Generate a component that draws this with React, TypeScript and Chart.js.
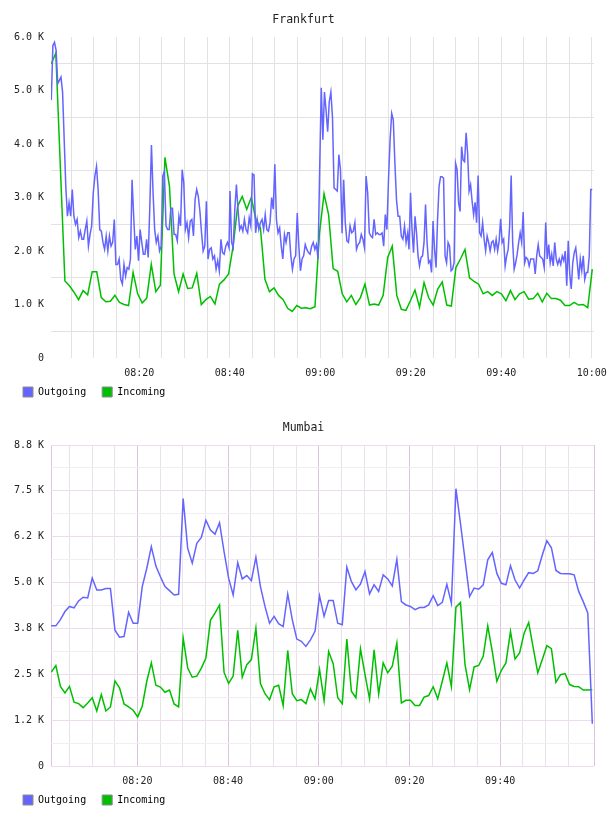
import { useEffect, useRef } from "react";
import { Chart, registerables } from "chart.js";

Chart.register(...registerables);

const FONT = '"DejaVu Sans Mono", monospace';
const OUTGOING_COLOR = "#6464ff";
const INCOMING_COLOR = "#00bf00";
const TEXT_COLOR = "#222";

// x axis: minutes after 08:00, labelled every 20 minutes
const TIME_LABEL_MINUTES = [20, 40, 60, 80, 100, 120];
const TIME_LABELS = ["08:20", "08:40", "09:00", "09:20", "09:40", "10:00"];

// y axis ticks (thousands)
const FRA_Y_LABEL_VALUES = [0, 1, 2, 3, 4, 5, 6];
const FRA_Y_LABELS = ["0", "1.0 K", "2.0 K", "3.0 K", "4.0 K", "5.0 K", "6.0 K"];
const MUM_Y_LABEL_VALUES = [0, 1.25, 2.5, 3.75, 5, 6.25, 7.5, 8.75];
const MUM_Y_LABELS = ["0", "1.2 K", "2.5 K", "3.8 K", "5.0 K", "6.2 K", "7.5 K", "8.8 K"];

// Frankfurt outgoing, in thousands, three 40-minute blocks of samples
const fraOutgoing0800 = [
  4.82, 5.84, 5.9, 5.75, 5.13, 5.19, 5.25, 4.97, 4.08, 3.2,
  2.65, 2.9, 2.65, 3.15, 2.65, 2.5, 2.59, 2.25, 2.37, 2.22,
  2.22, 2.4, 2.56, 2.09, 2.31, 2.47, 3.09, 3.4, 3.58, 3.15,
  2.4, 2.37, 2.16, 2.03, 2.28, 2.0, 2.28, 2.09, 2.16, 2.59,
  1.75, 1.75, 1.85, 1.47, 1.38, 1.75, 1.53, 1.69, 1.66, 1.85,
  3.33, 2.65, 2.03, 2.28, 1.82, 2.4, 2.16, 1.94, 1.94, 2.22,
  1.88, 2.84, 3.98, 3.09, 2.4, 2.16, 2.28, 2.0, 2.09, 3.4,
  3.49, 2.47, 2.4, 2.4, 2.8, 2.8, 2.31, 2.31, 2.19, 2.65,
  2.47, 3.52, 3.27, 2.4, 2.53, 2.25, 2.56, 2.59, 2.28, 2.96,
  3.15, 3.02, 2.74, 2.34, 2.0, 2.09, 2.93, 1.85, 2.03, 2.06,
  1.85, 1.91, 1.66, 1.82, 1.63, 2.22, 1.97, 1.94, 2.09, 2.16,
  2.06,
];
const fraOutgoing0840 = [
  3.12, 2.16, 2.06, 2.78, 3.24, 2.78, 2.4, 2.47, 2.37, 2.59,
  2.4, 2.34, 2.62, 2.47, 3.44, 3.42, 2.34, 2.59, 2.4, 2.53,
  2.59, 2.4, 2.68, 2.4, 2.37, 2.53, 3.0, 2.78, 3.62, 2.59,
  2.34, 2.43, 2.09, 1.85, 2.31, 2.16, 2.34, 2.34, 1.91, 1.66,
  1.85, 1.91, 2.71, 2.09, 1.63, 1.85, 1.91, 2.12, 2.03, 1.97,
  1.94, 2.09, 2.16, 2.03, 2.12, 1.85, 3.52, 5.05, 4.08, 4.97,
  4.63, 4.23, 4.79, 4.97, 4.51, 3.18, 3.15, 3.12, 3.8, 3.52,
  2.33, 3.33, 2.53, 2.19, 2.16, 2.47, 2.34, 2.37, 2.53, 2.03,
  2.12, 2.16, 2.31, 2.22, 2.06, 3.4, 3.09, 2.34, 2.28, 2.25,
  2.59, 2.31, 2.34, 2.31, 2.31, 2.34, 2.09, 2.68, 2.4, 3.33,
  4.08, 4.57, 4.45, 3.64, 2.96, 2.65, 2.65, 2.28, 2.22, 2.47,
  2.16, 2.34,
];
const fraOutgoing0920 = [
  2.03, 3.09, 2.4, 1.97, 2.65, 2.34, 1.91, 1.72, 1.88, 1.91,
  2.16, 2.87, 2.16, 1.78, 1.82, 1.6, 2.56, 2.03, 1.69, 2.59,
  3.21, 3.39, 3.39, 3.36, 1.91, 1.78, 2.16, 2.09, 1.63, 1.66,
  1.78, 3.64, 3.52, 2.9, 2.74, 3.95, 3.7, 3.67, 4.21, 3.83,
  3.12, 3.24, 2.93, 2.68, 2.91, 2.53, 3.41, 2.34, 2.28, 2.53,
  2.22, 2.0, 2.28, 2.16, 2.0, 2.16, 2.19, 2.03, 2.22, 2.0,
  2.19, 2.6, 2.16, 2.22, 1.72, 1.91, 2.03, 2.47, 3.41, 2.16,
  1.66, 1.78, 1.94, 2.16, 2.34, 2.16, 2.73, 1.78, 1.88, 1.85,
  1.72, 1.85, 1.85, 1.85, 1.57, 1.91, 2.12, 1.91, 1.88, 1.85,
  1.69, 2.53, 1.85, 2.12, 1.78, 1.94, 1.72, 2.16, 1.85, 1.75,
  1.85, 1.75, 1.91, 1.82, 2.0, 1.35, 2.19, 1.57, 1.29, 1.78,
  1.97, 2.06, 1.78, 1.47, 1.85, 1.63, 1.91, 1.47, 1.6, 1.6,
  1.91, 3.15, 3.15,
];

// Frankfurt incoming, one sample per minute
const fraIncoming = [
  5.5, 5.7, 3.57, 1.44, 1.35, 1.23, 1.09, 1.26, 1.18, 1.61,
  1.61, 1.13, 1.05, 1.06, 1.17, 1.04, 1.0, 0.98, 1.6, 1.2,
  1.03, 1.12, 1.75, 1.24, 1.36, 3.75, 3.21, 1.57, 1.24, 1.57,
  1.3, 1.31, 1.58, 1.0, 1.09, 1.15, 1.01, 1.38, 1.46, 1.57,
  2.09, 2.84, 3.02, 2.78, 3.0, 2.59, 2.43, 1.47, 1.24, 1.31,
  1.17, 1.09, 0.93, 0.87, 0.98, 0.93, 0.94, 0.92, 0.96, 2.34,
  3.07, 2.68, 1.67, 1.62, 1.2, 1.05, 1.17, 1.0, 1.13, 1.38,
  0.99, 1.01, 0.99, 1.17, 1.88, 2.09, 1.17, 0.91, 0.89,
  1.07, 1.27, 0.95, 1.41, 1.13, 0.99, 1.29, 1.42, 0.99, 0.97,
  1.69, 1.85, 2.03, 1.5, 1.43, 1.38, 1.2, 1.24, 1.17, 1.24,
  1.2, 1.07, 1.26, 1.09, 1.2, 1.24, 1.1, 1.11, 1.21, 1.05,
  1.21, 1.11, 1.11, 1.08, 0.98, 0.98, 1.04, 0.99, 1.0, 0.94,
  1.66,
];

// Mumbai, one sample per minute
const mumOutgoing = [
  3.82, 3.82, 3.99, 4.21, 4.35, 4.31, 4.5, 4.6, 4.58, 5.12,
  4.8, 4.8, 4.84, 4.84, 3.7, 3.51, 3.53, 4.19, 3.89, 3.89,
  4.89, 5.39, 5.98, 5.45, 5.16, 4.89, 4.78, 4.66, 4.68, 7.29,
  5.93, 5.53, 6.07, 6.23, 6.7, 6.43, 6.32, 6.63, 5.84, 5.12,
  4.66, 5.54, 5.1, 5.19, 5.05, 5.69, 4.89, 4.35, 3.89, 4.08,
  3.88, 3.8, 4.69, 3.99, 3.46, 3.4, 3.26, 3.44, 3.67, 4.64,
  4.08, 4.51, 4.51, 3.89, 3.85, 5.42, 5.03, 4.8, 4.96, 5.3,
  4.69, 4.94, 4.76, 5.21, 5.1, 4.91, 5.63, 4.48, 4.39, 4.35,
  4.26, 4.32, 4.32, 4.39, 4.64, 4.37, 4.46, 4.95, 4.44, 7.56,
  6.61, 5.62, 4.62, 4.85, 4.82, 4.94, 5.62, 5.82, 5.25, 4.98,
  4.94, 5.46, 5.07, 4.85, 5.07, 5.27, 5.25, 5.32, 5.75, 6.14,
  5.95, 5.33, 5.25, 5.24, 5.24, 5.21, 4.76, 4.48, 4.17, 1.15,
];
const mumIncoming = [
  2.56, 2.74, 2.17, 1.99, 2.17, 1.74, 1.7, 1.59, 1.72, 1.86,
  1.5, 1.95, 1.5, 1.61, 2.32, 2.13, 1.69, 1.61, 1.52, 1.34,
  1.63, 2.31, 2.81, 2.2, 2.15, 2.01, 2.07, 1.69, 1.61, 3.49,
  2.67, 2.42, 2.45, 2.67, 2.94, 3.97, 4.17, 4.39, 2.55, 2.25,
  2.45, 3.7, 2.42, 2.76, 2.9, 3.76, 2.25, 1.97, 1.81, 2.16,
  2.2, 1.65, 3.15, 1.97, 1.78, 1.81, 1.7, 2.1, 1.83, 2.63,
  1.78, 3.12, 2.79, 1.86, 1.7, 3.46, 2.04, 1.86, 3.19, 2.49,
  1.83, 3.17, 1.96, 2.81, 2.54, 2.72, 3.35, 1.72, 1.79, 1.79,
  1.65, 1.65, 1.88, 1.92, 2.16, 1.83, 2.31, 2.81, 2.16, 4.33,
  4.46, 2.76, 2.08, 2.7, 2.74, 2.99, 3.82, 3.12, 2.31, 2.61,
  2.81, 3.67, 2.92, 3.08, 3.62, 3.91, 3.22, 2.54, 2.9, 3.28,
  3.2, 2.28, 2.49, 2.52, 2.22, 2.17, 2.16, 2.07, 2.07, 2.08,
];

type Pt = { x: number; y: number };

// Place evenly spaced samples across a [from, to] window (minutes after 08:00)
function samples(values: number[], from: number, to: number): Pt[] {
  const step = (to - from) / (values.length - 1);
  return values.map((y, i) => ({ x: from + i * step, y }));
}

const near = (a: number, b: number) => Math.abs(a - b) < 1e-6;

function labelFor(value: number, at: number[], labels: string[]) {
  const i = at.findIndex((v) => near(v, value));
  return i >= 0 ? labels[i] : "";
}

type Panel = {
  title: string;
  outgoing: Pt[];
  incoming: Pt[];
  xMin: number;
  xMax: number;
  xGrid: number[];
  yMax: number;
  yGrid: number[];
  yLabelValues: number[];
  yLabels: string[];
  gridX: (v: number) => string;
  gridY: (v: number) => string;
};

function range(from: number, to: number, step: number) {
  const out: number[] = [];
  for (let v = from; v <= to + 1e-9; v += step) out.push(Math.round(v * 1000) / 1000);
  return out;
}

const FRA_GRID = "#e2e2e2";
const MUM_MAJOR_V = "#dcc4dc";
const MUM_MAJOR_H = "#ecdcec";
const MUM_MINOR_V = "#e9e3e9";
const MUM_MINOR_H = "#f1eef1";

const frankfurt: Panel = {
  title: "Frankfurt",
  outgoing: [
    ...samples(fraOutgoing0800, 0.56, 39.84),
    ...samples(fraOutgoing0840, 40.06, 79.33),
    ...samples(fraOutgoing0920, 79.62, 120.12),
  ],
  incoming: samples(fraIncoming, 0.56, 120.12),
  xMin: 0.5,
  xMax: 120.5,
  xGrid: range(5, 120, 5),
  yMax: 6,
  yGrid: range(0, 6, 0.5),
  yLabelValues: FRA_Y_LABEL_VALUES,
  yLabels: FRA_Y_LABELS,
  gridX: () => FRA_GRID,
  gridY: (v) => (near(v % 1, 0.5) ? FRA_GRID : "rgba(0,0,0,0)"),
};

const mumbai: Panel = {
  title: "Mumbai",
  outgoing: samples(mumOutgoing, 1.02, 120.33),
  incoming: samples(mumIncoming, 1.02, 120.33),
  xMin: 0.95,
  xMax: 120.7,
  xGrid: [0.95, ...range(5, 115, 5), 120.7],
  yMax: 8.75,
  yGrid: range(0, 8.75, 0.625),
  yLabelValues: MUM_Y_LABEL_VALUES,
  yLabels: MUM_Y_LABELS,
  gridX: (v) =>
    near(v, 0.95) || near(v, 120.7) || near(v % 20, 0) ? MUM_MAJOR_V : MUM_MINOR_V,
  gridY: (v) => (near(v % 1.25, 0) ? MUM_MAJOR_H : MUM_MINOR_H),
};

function buildConfig(p: Panel): any {
  const font = { family: FONT, size: 10 };
  return {
    type: "line",
    data: {
      datasets: [
        { label: "Outgoing", data: p.outgoing, borderColor: OUTGOING_COLOR, backgroundColor: OUTGOING_COLOR },
        { label: "Incoming", data: p.incoming, borderColor: INCOMING_COLOR, backgroundColor: INCOMING_COLOR },
      ].map((d) => ({ ...d, borderWidth: 1.5, pointRadius: 0, tension: 0, fill: false })),
    },
    options: {
      animation: false,
      responsive: false,
      devicePixelRatio: 1,
      events: [],
      layout: { padding: { top: 0, left: 13, right: 14, bottom: 1 } },
      plugins: {
        tooltip: { enabled: false },
        title: {
          display: true,
          text: p.title,
          color: TEXT_COLOR,
          font: { family: FONT, size: 11.5, weight: "normal" },
          padding: { top: 13, bottom: 10.2 },
        },
        legend: {
          position: "bottom",
          align: "start",
          labels: {
            boxWidth: 10,
            boxHeight: 10,
            padding: 10,
            color: TEXT_COLOR,
            font,
            // a trailing space widens the gap between the two entries
            generateLabels: (chart: any) =>
              chart.data.datasets.map((d: any, i: number) => ({
                text: d.label + " ",
                fillStyle: d.borderColor,
                strokeStyle: "#8c8c8c",
                lineWidth: 1,
                hidden: false,
                datasetIndex: i,
              })),
          },
        },
      },
      scales: {
        x: {
          type: "linear",
          min: p.xMin,
          max: p.xMax,
          afterBuildTicks: (s: any) => {
            s.ticks = p.xGrid.map((value) => ({ value }));
          },
          afterFit: (s: any) => {
            s.height = 19;
            s.paddingLeft = 0;
            s.paddingRight = 0;
          },
          border: { display: false },
          grid: {
            drawTicks: false,
            lineWidth: 1,
            color: (c: any) => p.gridX(c.tick ? c.tick.value : 0),
          },
          ticks: {
            autoSkip: false,
            maxRotation: 0,
            padding: 9,
            color: TEXT_COLOR,
            font,
            callback: (v: number) => labelFor(v, TIME_LABEL_MINUTES, TIME_LABELS),
          },
        },
        y: {
          type: "linear",
          min: 0,
          max: p.yMax,
          afterBuildTicks: (s: any) => {
            s.ticks = p.yGrid.map((value) => ({ value }));
          },
          afterFit: (s: any) => {
            s.width = 38;
            s.paddingTop = 0;
            s.paddingBottom = 0;
          },
          border: { display: false },
          grid: {
            drawTicks: false,
            lineWidth: 1,
            color: (c: any) => p.gridY(c.tick ? c.tick.value : 0),
          },
          ticks: {
            autoSkip: false,
            padding: 7,
            color: TEXT_COLOR,
            font,
            callback: (v: number) => labelFor(v, p.yLabelValues, p.yLabels),
          },
        },
      },
    },
  };
}

function TrafficChart({ panel }: { panel: Panel }) {
  const ref = useRef<HTMLCanvasElement>(null);
  useEffect(() => {
    const chart = new Chart(ref.current as HTMLCanvasElement, buildConfig(panel));
    return () => chart.destroy();
  }, [panel]);
  return (
    <canvas
      ref={ref}
      width={608}
      height={408}
      style={{ display: "block", width: 608, height: 408 }}
    />
  );
}

export default function App() {
  return (
    <div style={{ position: "absolute", left: 0, top: 0, width: 608, height: 816, background: "#fff" }}>
      <TrafficChart panel={frankfurt} />
      <TrafficChart panel={mumbai} />
    </div>
  );
}
